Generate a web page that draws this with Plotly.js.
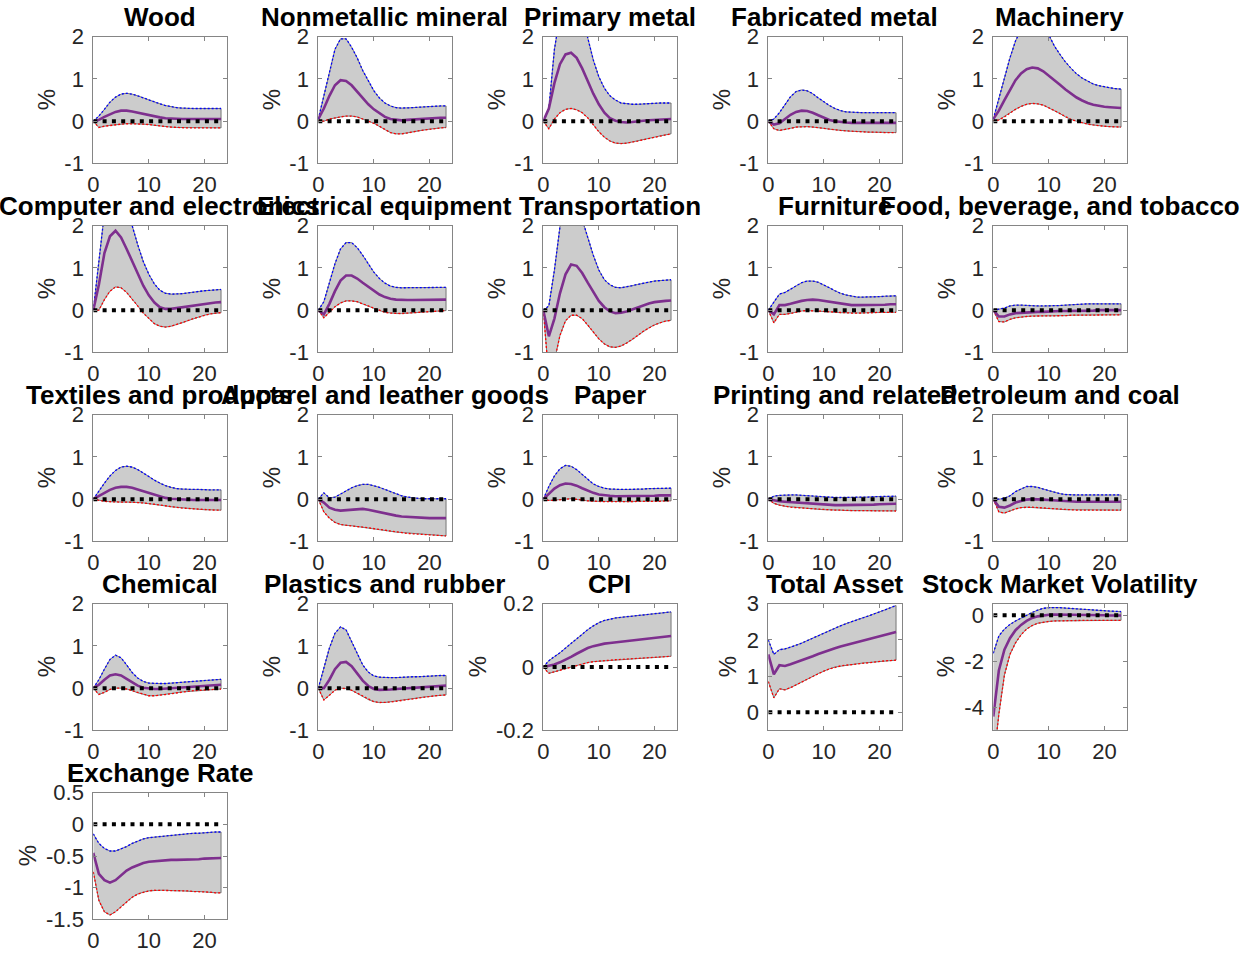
<!DOCTYPE html>
<html><head><meta charset="utf-8">
<script src="https://cdn.plot.ly/plotly-3.0.1.min.js"></script>
<style>body{margin:0;background:#fff}</style></head>
<body><div id="chart" style="width:1251px;height:954px"></div>
<script>
// horizon (months)
const horizon = [0,1,2,3,4,5,6,7,8,9,10,11,12,13,14,15,16,17,18,19,20,21,22,23];

const titles = ["Wood","Nonmetallic mineral","Primary metal","Fabricated metal","Machinery",
  "Computer and electronics","Electrical equipment","Transportation","Furniture","Food, beverage, and tobacco",
  "Textiles and products","Apparel and leather goods","Paper","Printing and related","Petroleum and coal",
  "Chemical","Plastics and rubber","CPI","Total Asset","Stock Market Volatility","Exchange Rate"];

// ---- median / upper / lower responses ----
const wood_med = [-0.02,0.03,0.1,0.17,0.22,0.25,0.25,0.23,0.2,0.17,0.14,0.11,0.09,0.07,0.06,0.05,0.05,0.05,0.05,0.05,0.05,0.05,0.05,0.05];
const wood_up  = [0,0.12,0.28,0.45,0.57,0.64,0.66,0.64,0.6,0.55,0.5,0.45,0.41,0.37,0.34,0.32,0.31,0.3,0.3,0.3,0.3,0.3,0.3,0.3];
const wood_lo  = [0,-0.15,-0.12,-0.1,-0.08,-0.07,-0.06,-0.06,-0.06,-0.07,-0.08,-0.1,-0.12,-0.13,-0.14,-0.15,-0.15,-0.16,-0.16,-0.16,-0.16,-0.16,-0.16,-0.16];

const nonmet_med = [0.05,0.3,0.6,0.85,0.97,0.95,0.85,0.7,0.55,0.4,0.28,0.18,0.1,0.05,0.03,0.02,0.03,0.04,0.05,0.06,0.07,0.08,0.08,0.08];
const nonmet_up  = [0.05,0.6,1.2,1.7,1.95,1.95,1.75,1.5,1.2,0.95,0.72,0.55,0.43,0.36,0.32,0.31,0.31,0.32,0.33,0.34,0.35,0.35,0.36,0.36];
const nonmet_lo  = [0,0,0.05,0.08,0.1,0.12,0.12,0.1,0.05,0,-0.05,-0.12,-0.2,-0.27,-0.3,-0.3,-0.28,-0.25,-0.23,-0.21,-0.19,-0.17,-0.16,-0.15];

const primary_med = [0,0.3,0.9,1.35,1.58,1.62,1.5,1.25,0.95,0.65,0.4,0.2,0.07,0.01,-0.02,-0.03,-0.02,0,0.01,0.02,0.03,0.04,0.05,0.05];
const primary_up  = [0,0.3,1.7,2.8,3.3,3.3,3.0,2.5,1.95,1.45,1.05,0.78,0.6,0.5,0.43,0.41,0.4,0.4,0.41,0.42,0.42,0.43,0.43,0.43];
const primary_lo  = [0,-0.18,0.05,0.2,0.28,0.3,0.27,0.2,0.08,-0.08,-0.25,-0.38,-0.47,-0.52,-0.53,-0.52,-0.5,-0.47,-0.44,-0.41,-0.38,-0.35,-0.32,-0.3];

const fab_med = [0,-0.08,-0.05,0.05,0.15,0.22,0.25,0.24,0.2,0.14,0.08,0.03,0,-0.02,-0.03,-0.04,-0.04,-0.04,-0.04,-0.04,-0.04,-0.04,-0.04,-0.04];
const fab_up  = [0,0.05,0.2,0.4,0.58,0.7,0.74,0.72,0.65,0.55,0.45,0.37,0.3,0.25,0.22,0.21,0.2,0.2,0.2,0.2,0.2,0.2,0.2,0.2];
const fab_lo  = [0,-0.18,-0.22,-0.2,-0.17,-0.14,-0.13,-0.13,-0.14,-0.15,-0.17,-0.19,-0.21,-0.22,-0.23,-0.24,-0.25,-0.25,-0.26,-0.26,-0.27,-0.27,-0.27,-0.27];

const mach_med = [0.05,0.25,0.5,0.75,0.97,1.13,1.23,1.27,1.25,1.18,1.08,0.97,0.86,0.75,0.65,0.56,0.49,0.43,0.39,0.36,0.34,0.33,0.32,0.31];
const mach_up  = [0.05,0.55,1.05,1.5,1.9,2.2,2.45,2.55,2.5,2.3,2.02,1.78,1.58,1.4,1.25,1.12,1.02,0.94,0.88,0.84,0.81,0.79,0.77,0.76];
const mach_lo  = [0,0.03,0.1,0.2,0.28,0.35,0.4,0.42,0.41,0.38,0.32,0.25,0.18,0.1,0.04,0,-0.04,-0.07,-0.09,-0.11,-0.12,-0.13,-0.14,-0.14];

const comp_med = [0,0.6,1.35,1.75,1.88,1.72,1.45,1.15,0.85,0.58,0.35,0.18,0.07,0.03,0.03,0.05,0.07,0.09,0.11,0.13,0.15,0.17,0.18,0.19];
const comp_up  = [0,1.1,2.3,3.2,3.5,3.2,2.6,2.0,1.55,1.15,0.85,0.62,0.47,0.4,0.38,0.38,0.39,0.41,0.43,0.45,0.46,0.47,0.48,0.49];
const comp_lo  = [0,0,0.25,0.45,0.55,0.53,0.42,0.27,0.1,-0.07,-0.2,-0.32,-0.38,-0.4,-0.38,-0.34,-0.3,-0.25,-0.2,-0.16,-0.12,-0.09,-0.07,-0.06];

const elec_med = [0,-0.1,0.15,0.45,0.7,0.82,0.82,0.75,0.65,0.55,0.45,0.37,0.31,0.27,0.25,0.24,0.24,0.24,0.24,0.24,0.24,0.25,0.25,0.25];
const elec_up  = [0,0.2,0.65,1.1,1.45,1.6,1.6,1.48,1.3,1.1,0.9,0.75,0.64,0.57,0.54,0.53,0.53,0.53,0.53,0.53,0.54,0.54,0.54,0.54];
const elec_lo  = [0,-0.18,-0.05,0.08,0.17,0.22,0.22,0.2,0.15,0.1,0.04,-0.01,-0.05,-0.07,-0.08,-0.08,-0.07,-0.06,-0.05,-0.04,-0.03,-0.02,-0.02,-0.01];

const trans_med = [0,-0.62,-0.2,0.4,0.85,1.08,1.05,0.88,0.65,0.42,0.22,0.07,-0.03,-0.07,-0.06,-0.03,0.02,0.07,0.12,0.16,0.19,0.21,0.22,0.23];
const trans_up  = [0,0.1,0.95,2.0,3.0,3.2,2.9,2.15,1.7,1.3,0.95,0.72,0.6,0.54,0.53,0.55,0.58,0.61,0.64,0.67,0.69,0.7,0.71,0.72];
const trans_lo  = [0,-1.6,-1.2,-0.6,-0.25,-0.12,-0.12,-0.2,-0.35,-0.52,-0.68,-0.8,-0.87,-0.88,-0.85,-0.78,-0.7,-0.6,-0.5,-0.42,-0.35,-0.3,-0.26,-0.24];

const furn_med = [0,-0.1,0.12,0.12,0.15,0.19,0.22,0.24,0.25,0.24,0.22,0.2,0.17,0.15,0.13,0.12,0.12,0.12,0.12,0.12,0.13,0.13,0.14,0.14];
const furn_up  = [0,0.2,0.38,0.42,0.5,0.58,0.65,0.69,0.69,0.66,0.6,0.53,0.46,0.4,0.36,0.33,0.31,0.31,0.31,0.31,0.32,0.33,0.34,0.34];
const furn_lo  = [0,-0.3,-0.1,-0.1,-0.08,-0.05,-0.02,-0.01,-0.01,-0.02,-0.03,-0.04,-0.05,-0.06,-0.07,-0.07,-0.07,-0.07,-0.06,-0.06,-0.05,-0.05,-0.05,-0.05];

const food_med = [0,-0.15,-0.15,-0.1,-0.07,-0.06,-0.05,-0.05,-0.04,-0.04,-0.03,-0.03,-0.02,-0.02,-0.02,-0.01,-0.01,-0.01,-0.01,0,0,0,0,0];
const food_up  = [0,0.02,0.05,0.1,0.12,0.12,0.11,0.1,0.1,0.1,0.1,0.1,0.11,0.12,0.13,0.14,0.15,0.15,0.15,0.15,0.15,0.15,0.15,0.15];
const food_lo  = [0,-0.27,-0.28,-0.22,-0.18,-0.16,-0.15,-0.14,-0.14,-0.14,-0.13,-0.13,-0.13,-0.13,-0.12,-0.12,-0.12,-0.12,-0.12,-0.12,-0.11,-0.11,-0.11,-0.11];

const text_med = [0,0.08,0.16,0.22,0.27,0.29,0.29,0.27,0.23,0.19,0.15,0.1,0.06,0.03,0.01,0,-0.01,-0.02,-0.02,-0.02,-0.02,-0.02,-0.02,-0.02];
const text_up  = [0,0.2,0.38,0.55,0.68,0.76,0.78,0.76,0.7,0.62,0.53,0.45,0.38,0.32,0.28,0.25,0.24,0.23,0.23,0.23,0.22,0.22,0.22,0.22];
const text_lo  = [0,-0.03,-0.05,-0.06,-0.07,-0.07,-0.07,-0.07,-0.08,-0.09,-0.1,-0.12,-0.14,-0.16,-0.18,-0.2,-0.21,-0.22,-0.23,-0.24,-0.25,-0.25,-0.26,-0.26];

const app_med = [0,-0.08,-0.2,-0.25,-0.27,-0.26,-0.24,-0.23,-0.23,-0.25,-0.28,-0.31,-0.34,-0.37,-0.39,-0.41,-0.42,-0.43,-0.44,-0.44,-0.45,-0.45,-0.45,-0.45];
const app_up  = [0,0.15,0.03,0.05,0.12,0.2,0.27,0.32,0.35,0.35,0.32,0.28,0.23,0.18,0.13,0.08,0.05,0.03,0.02,0.01,0.01,0.01,0.01,0.01];
const app_lo  = [0,-0.3,-0.45,-0.55,-0.6,-0.62,-0.63,-0.65,-0.66,-0.68,-0.7,-0.72,-0.74,-0.76,-0.78,-0.8,-0.81,-0.82,-0.83,-0.84,-0.85,-0.86,-0.86,-0.87];

const paper_med = [0,0.12,0.25,0.33,0.37,0.36,0.32,0.26,0.2,0.15,0.11,0.09,0.08,0.07,0.07,0.07,0.07,0.08,0.08,0.08,0.08,0.09,0.09,0.09];
const paper_up  = [0,0.3,0.55,0.72,0.8,0.78,0.7,0.58,0.46,0.36,0.3,0.26,0.24,0.23,0.23,0.23,0.23,0.24,0.24,0.25,0.25,0.25,0.26,0.26];
const paper_lo  = [0,-0.03,-0.03,-0.01,0,0.01,0,-0.02,-0.04,-0.05,-0.06,-0.06,-0.06,-0.06,-0.06,-0.06,-0.06,-0.05,-0.05,-0.05,-0.05,-0.05,-0.04,-0.04];

const print_med = [0,-0.03,-0.05,-0.06,-0.07,-0.08,-0.09,-0.1,-0.11,-0.12,-0.13,-0.13,-0.14,-0.14,-0.14,-0.14,-0.14,-0.14,-0.13,-0.13,-0.12,-0.12,-0.12,-0.11];
const print_up  = [0,0.07,0.09,0.1,0.1,0.1,0.09,0.08,0.07,0.06,0.05,0.04,0.04,0.04,0.04,0.04,0.04,0.05,0.05,0.06,0.06,0.07,0.07,0.07];
const print_lo  = [0,-0.1,-0.14,-0.17,-0.19,-0.2,-0.21,-0.22,-0.23,-0.24,-0.25,-0.25,-0.26,-0.26,-0.27,-0.27,-0.27,-0.27,-0.27,-0.28,-0.28,-0.28,-0.28,-0.28];

const petro_med = [0,-0.18,-0.2,-0.15,-0.08,-0.04,-0.01,0,0,-0.01,-0.02,-0.03,-0.04,-0.05,-0.05,-0.06,-0.06,-0.06,-0.06,-0.06,-0.06,-0.06,-0.06,-0.06];
const petro_up  = [0,0,0.02,0.08,0.18,0.25,0.3,0.3,0.28,0.24,0.2,0.16,0.13,0.11,0.1,0.1,0.1,0.1,0.1,0.1,0.1,0.1,0.1,0.1];
const petro_lo  = [0,-0.3,-0.33,-0.28,-0.23,-0.2,-0.19,-0.19,-0.2,-0.21,-0.22,-0.23,-0.24,-0.25,-0.25,-0.26,-0.26,-0.26,-0.26,-0.26,-0.26,-0.26,-0.26,-0.26];

const chem_med = [0,0.08,0.2,0.3,0.33,0.3,0.22,0.13,0.06,0.01,-0.01,-0.02,-0.02,-0.01,0,0.01,0.02,0.03,0.04,0.05,0.06,0.07,0.07,0.08];
const chem_up  = [0,0.2,0.45,0.68,0.78,0.72,0.55,0.37,0.24,0.16,0.12,0.11,0.11,0.11,0.12,0.13,0.14,0.15,0.16,0.17,0.18,0.19,0.2,0.21];
const chem_lo  = [0,-0.15,-0.1,-0.03,0,0,-0.02,-0.06,-0.11,-0.15,-0.18,-0.18,-0.17,-0.15,-0.13,-0.11,-0.09,-0.08,-0.06,-0.05,-0.04,-0.03,-0.03,-0.02];

const plast_med = [0,0,0.2,0.45,0.6,0.62,0.52,0.35,0.18,0.05,-0.02,-0.04,-0.04,-0.03,-0.02,-0.01,0,0.01,0.02,0.03,0.04,0.05,0.05,0.06];
const plast_up  = [0,0.45,0.95,1.3,1.45,1.38,1.1,0.8,0.55,0.38,0.29,0.26,0.25,0.25,0.25,0.26,0.26,0.27,0.27,0.28,0.28,0.29,0.3,0.3];
const plast_lo  = [0,-0.28,-0.17,-0.05,0,-0.01,-0.05,-0.12,-0.2,-0.27,-0.32,-0.34,-0.34,-0.33,-0.31,-0.29,-0.27,-0.25,-0.23,-0.21,-0.19,-0.18,-0.17,-0.16];

const cpi_med = [0,0.003,0.008,0.015,0.023,0.032,0.042,0.052,0.06,0.066,0.071,0.074,0.076,0.078,0.08,0.082,0.084,0.086,0.088,0.09,0.092,0.094,0.096,0.098];
const cpi_up  = [0,0.02,0.033,0.045,0.06,0.075,0.09,0.105,0.118,0.13,0.14,0.147,0.152,0.155,0.157,0.159,0.16,0.162,0.164,0.166,0.168,0.17,0.172,0.174];
const cpi_lo  = [0,-0.02,-0.015,-0.01,-0.005,0,0.005,0.01,0.014,0.017,0.019,0.021,0.022,0.023,0.024,0.025,0.026,0.027,0.028,0.029,0.03,0.031,0.032,0.034];

const asset_med = [1.6,1.05,1.3,1.28,1.33,1.38,1.43,1.49,1.55,1.61,1.67,1.72,1.77,1.82,1.86,1.9,1.94,1.98,2.02,2.06,2.1,2.14,2.18,2.22];
const asset_up  = [2.0,1.6,1.73,1.75,1.8,1.85,1.91,1.98,2.05,2.12,2.2,2.27,2.33,2.39,2.45,2.51,2.56,2.61,2.66,2.71,2.77,2.83,2.89,2.95];
const asset_lo  = [0.85,0.4,0.65,0.62,0.68,0.75,0.83,0.91,0.99,1.07,1.14,1.2,1.25,1.28,1.3,1.32,1.34,1.36,1.38,1.4,1.41,1.42,1.43,1.44];

const vol_med = [-4.4,-2.4,-1.5,-1.0,-0.65,-0.42,-0.25,-0.12,-0.05,0,0.02,0.03,0.03,0.02,0.02,0.01,0.01,0,0,0,0,-0.01,-0.01,-0.01];
const vol_up  = [-1.65,-0.9,-0.6,-0.4,-0.25,-0.12,0,0.12,0.22,0.3,0.33,0.34,0.33,0.31,0.29,0.27,0.25,0.23,0.21,0.2,0.19,0.18,0.17,0.16];
const vol_lo  = [-6.5,-4.3,-2.6,-1.7,-1.2,-0.85,-0.6,-0.45,-0.35,-0.3,-0.27,-0.25,-0.24,-0.23,-0.22,-0.22,-0.22,-0.22,-0.22,-0.22,-0.22,-0.22,-0.22,-0.22];

const fx_med = [-0.45,-0.78,-0.88,-0.92,-0.88,-0.8,-0.73,-0.68,-0.64,-0.61,-0.59,-0.58,-0.57,-0.57,-0.56,-0.56,-0.56,-0.55,-0.55,-0.55,-0.54,-0.54,-0.54,-0.53];
const fx_up  = [-0.15,-0.3,-0.38,-0.42,-0.42,-0.39,-0.35,-0.3,-0.26,-0.23,-0.21,-0.2,-0.19,-0.18,-0.17,-0.16,-0.15,-0.15,-0.14,-0.14,-0.13,-0.13,-0.12,-0.12];
const fx_lo  = [-0.75,-1.2,-1.38,-1.43,-1.38,-1.3,-1.22,-1.15,-1.1,-1.07,-1.05,-1.04,-1.04,-1.04,-1.04,-1.05,-1.05,-1.05,-1.06,-1.06,-1.07,-1.07,-1.08,-1.08];

// ---- axis tick labels ----
const xTickVals = [0,10,20];
const xTickText = ["0","10","20"];
const stdTicks = [-1,0,1,2],           stdTickText = ["-1","0","1","2"];
const cpiTicks = [-0.2,0,0.2],         cpiTickText = ["-0.2","0","0.2"];
const assetTicks = [0,1,2,3],          assetTickText = ["0","1","2","3"];
const volTicks = [-4,-2,0],            volTickText = ["-4","-2","0"];
const fxTicks = [-1.5,-1,-0.5,0,0.5],  fxTickText = ["-1.5","-1","-0.5","0","0.5"];

const meds = [wood_med,nonmet_med,primary_med,fab_med,mach_med,comp_med,elec_med,trans_med,furn_med,food_med,
  text_med,app_med,paper_med,print_med,petro_med,chem_med,plast_med,cpi_med,asset_med,vol_med,fx_med];
const ups = [wood_up,nonmet_up,primary_up,fab_up,mach_up,comp_up,elec_up,trans_up,furn_up,food_up,
  text_up,app_up,paper_up,print_up,petro_up,chem_up,plast_up,cpi_up,asset_up,vol_up,fx_up];
const los = [wood_lo,nonmet_lo,primary_lo,fab_lo,mach_lo,comp_lo,elec_lo,trans_lo,furn_lo,food_lo,
  text_lo,app_lo,paper_lo,print_lo,petro_lo,chem_lo,plast_lo,cpi_lo,asset_lo,vol_lo,fx_lo];

function yspec(i){
  if (i===17) return {range:[-0.2,0.2], vals:cpiTicks, text:cpiTickText, lab:66};
  if (i===18) return {range:[-0.5,3], vals:assetTicks, text:assetTickText, lab:41};
  if (i===19) return {range:[-5,0.5], vals:volTicks, text:volTickText, lab:48};
  if (i===20) return {range:[-1.5,0.5], vals:fxTicks, text:fxTickText, lab:66};
  return {range:[-1,2], vals:stdTicks, text:stdTickText, lab:47};
}

const W = 1251, H = 954;
const colLeft0 = 93.3, colStep = 225, boxW = 133.3;
const rowTop0 = 36.7, rowStep = 189, boxH = 126.7;
const FONT = '"Liberation Sans", Arial, Helvetica, sans-serif';
const axisColor = '#858585';

const traces = [];
const layout = {
  width: W, height: H, margin:{l:0,r:0,t:0,b:0},
  paper_bgcolor:'#ffffff', plot_bgcolor:'#ffffff',
  showlegend:false, annotations:[], font:{family:FONT, color:'#262626'}
};

titles.forEach((t,i)=>{
  const r = Math.floor(i/5), c = i%5;
  const n = i===0 ? '' : String(i+1);
  const xa = 'x'+n, ya = 'y'+n;
  const left = colLeft0 + c*colStep, top = rowTop0 + r*rowStep;
  const ys = yspec(i);
  layout['xaxis'+n] = {
    domain:[left/W, (left+boxW)/W], anchor:ya, range:[0,24],
    tickmode:'array', tickvals:xTickVals, ticktext:xTickText,
    ticks:'inside', ticklen:4, tickcolor:axisColor, tickwidth:1,
    showline:true, linecolor:axisColor, linewidth:1, mirror:'ticks',
    showgrid:false, zeroline:false, ticklabelstandoff:1,
    tickfont:{size:22, color:'#262626', family:FONT}, fixedrange:true
  };
  layout['yaxis'+n] = {
    domain:[1-(top+boxH)/H, 1-top/H], anchor:xa, range:ys.range,
    tickmode:'array', tickvals:ys.vals, ticktext:ys.text,
    ticks:'inside', ticklen:4, tickcolor:axisColor, tickwidth:1,
    showline:true, linecolor:axisColor, linewidth:1, mirror:'ticks',
    showgrid:false, zeroline:false, ticklabelstandoff:4,
    tickfont:{size:22, color:'#262626', family:FONT}, fixedrange:true
  };
  const up = ups[i], lo = los[i], md = meds[i];
  // shaded band
  traces.push({x: horizon.concat(horizon.slice().reverse()), y: up.concat(lo.slice().reverse()),
    xaxis:xa, yaxis:ya, mode:'lines', fill:'toself', fillcolor:'#cccccc',
    line:{color:'#5a5a5a', width:0.8}, hoverinfo:'skip'});
  traces.push({x:horizon, y:up, xaxis:xa, yaxis:ya, mode:'lines', line:{color:'#0000ff', width:1.3, dash:'2px,2px'}});
  traces.push({x:horizon, y:lo, xaxis:xa, yaxis:ya, mode:'lines', line:{color:'#ff0000', width:1.3, dash:'2px,2px'}});
  traces.push({x:horizon, y:md, xaxis:xa, yaxis:ya, mode:'lines', line:{color:'#7E2F8E', width:2.6}});
  traces.push({x:[0,23], y:[0,0], xaxis:xa, yaxis:ya, mode:'lines', line:{color:'#000000', width:4, dash:'4px,5.3px'}});
  // subplot title
  layout.annotations.push({text:'<b>'+t+'</b>', xref:'paper', yref:'paper',
    x:(left+boxW/2)/W, y:1-top/H, xanchor:'center', yanchor:'bottom', yshift:3,
    showarrow:false, font:{size:26, color:'#000000', family:FONT}});
  // y label
  layout.annotations.push({text:'%', xref:'paper', yref:'paper',
    x:(left-ys.lab)/W, y:1-(top+boxH/2)/H, xanchor:'center', yanchor:'middle', textangle:-90,
    showarrow:false, font:{size:24, color:'#262626', family:FONT}});
});

Plotly.newPlot('chart', traces, layout, {staticPlot:true, displayModeBar:false});
</script>
</body></html>
